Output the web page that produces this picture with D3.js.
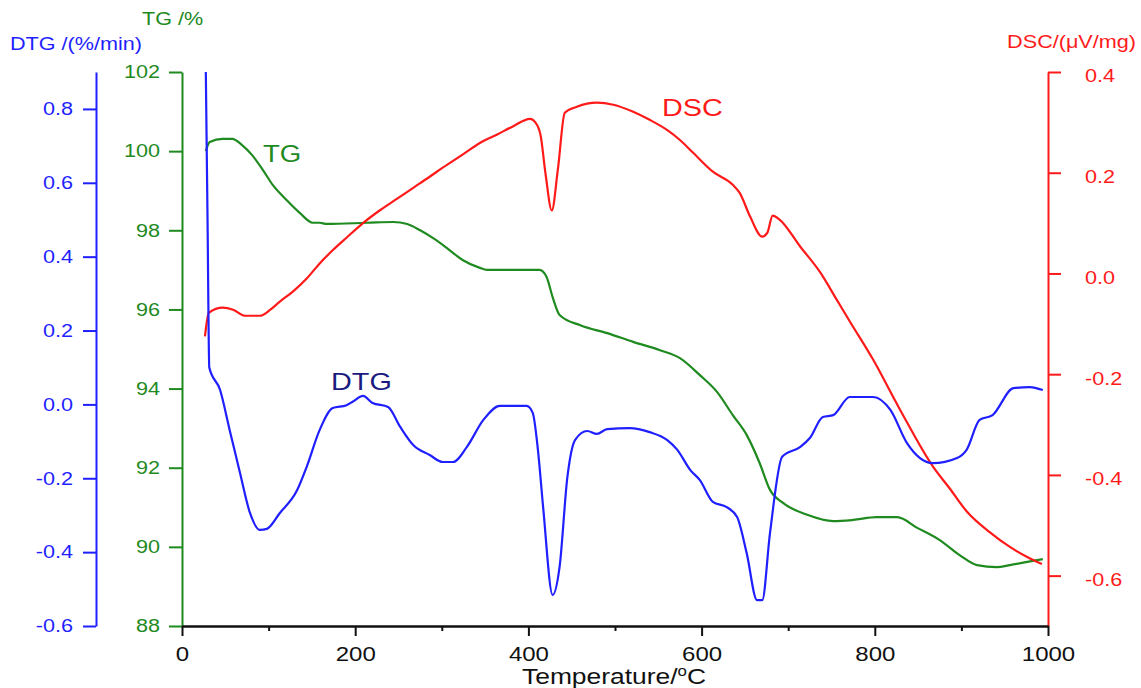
<!DOCTYPE html>
<html>
<head>
<meta charset="utf-8">
<script src="https://cdn.jsdelivr.net/npm/d3@7"></script>
<style>
    body { margin: 0; background: #fff; }
    svg { font-family: "Liberation Sans", Arial, sans-serif; }
</style>
</head>
<body>
<div id="chart"></div>
<script>
// data
const tgTemps = [27.5, 32, 47, 58, 69, 81, 93.5, 105, 121, 136, 151, 159, 167, 214, 244, 260, 275, 290, 306, 324, 344, 352, 413, 421, 428, 436, 460, 491, 521, 552, 575, 598, 618, 636, 652, 667, 679, 694, 722, 752, 775, 802, 826, 849, 875, 898, 918, 941, 956, 976, 994];
const tgValues = [100.0, 100.23, 100.31, 100.31, 100.16, 99.9, 99.52, 99.14, 98.76, 98.44, 98.19, 98.19, 98.16, 98.19, 98.21, 98.16, 98.0, 97.8, 97.55, 97.25, 97.05, 97.0, 97.0, 96.82, 96.31, 95.86, 95.6, 95.4, 95.18, 94.97, 94.77, 94.34, 93.91, 93.33, 92.83, 92.12, 91.44, 91.11, 90.81, 90.65, 90.68, 90.75, 90.75, 90.48, 90.17, 89.79, 89.54, 89.49, 89.54, 89.62, 89.69];

const dscTemps = [26.5, 31, 47, 59, 73, 90, 102, 113, 128, 144, 159, 174, 190, 209, 229, 248, 267, 286, 301, 324, 344, 364, 382, 402, 408, 414, 420, 427, 434, 442, 456, 479, 498, 521, 540, 560, 575, 590, 613, 636, 644, 656, 670, 676, 682, 690, 714, 737, 756, 771, 798, 829, 867, 887, 906, 933, 956, 976, 993];
const dscValues = [-0.125, -0.078, -0.068, -0.072, -0.084, -0.084, -0.072, -0.056, -0.036, -0.010, 0.020, 0.046, 0.071, 0.100, 0.126, 0.148, 0.170, 0.192, 0.210, 0.236, 0.259, 0.276, 0.292, 0.307, 0.300, 0.275, 0.195, 0.125, 0.206, 0.319, 0.331, 0.339, 0.335, 0.321, 0.305, 0.285, 0.265, 0.240, 0.202, 0.176, 0.160, 0.113, 0.073, 0.081, 0.115, 0.107, 0.053, 0.002, -0.052, -0.095, -0.171, -0.270, -0.383, -0.428, -0.472, -0.514, -0.543, -0.563, -0.577];

const dtgTemps = [27.5, 29.5, 31.5, 44, 55, 67, 78.5, 90, 98, 113, 133, 144, 159, 174, 190, 197, 209, 220, 238, 252, 267, 286, 301, 313, 329, 348, 367, 398, 405, 411, 417, 428, 436, 445, 454, 468, 479, 491, 517, 540, 560, 572, 587, 598, 613, 629, 641, 652, 664, 670, 679, 693, 714, 725, 740, 752, 771, 798, 818, 837, 867, 895, 906, 921, 936, 960, 979, 994];
const dtgValues = [0.9, 0.5, 0.1, 0.039, -0.069, -0.186, -0.294, -0.340, -0.337, -0.294, -0.232, -0.169, -0.069, -0.010, -0.002, 0.007, 0.023, 0.004, -0.007, -0.061, -0.110, -0.137, -0.156, -0.156, -0.115, -0.042, -0.004, -0.004, -0.023, -0.123, -0.278, -0.516, -0.440, -0.197, -0.096, -0.072, -0.080, -0.067, -0.064, -0.075, -0.096, -0.123, -0.178, -0.205, -0.264, -0.278, -0.305, -0.402, -0.530, -0.530, -0.348, -0.142, -0.115, -0.091, -0.034, -0.029, 0.020, 0.020, -0.015, -0.104, -0.159, -0.145, -0.123, -0.042, -0.029, 0.044, 0.047, 0.039];

// tick labels
const tempTicks = [0, 200, 400, 600, 800, 1000];
const tempMinorTicks = [100, 300, 500, 700, 900];
const tgTicks = [88, 90, 92, 94, 96, 98, 100, 102];
const dtgTicks = [-0.6, -0.4, -0.2, 0.0, 0.2, 0.4, 0.6, 0.8];
const dscTicks = [-0.6, -0.4, -0.2, 0.0, 0.2, 0.4];

const blue = '#1f1fff';
const green = '#1f8a1f';
const red = '#ff1a1a';

const width = 1141;
const height = 688;
const plot = {top: 72, bottom: 626, left: 182, right: 1048};

const svg = d3.select('#chart')
    .append('svg')
        .attr('width', width)
        .attr('height', height);

const xScale = d3.scaleLinear().domain([0, 1000]).range([plot.left, plot.right]);
const tgScale = d3.scaleLinear().domain([88, 102]).range([plot.bottom, plot.top]);
const dtgScale = d3.scaleLinear().domain([-0.6, 0.9]).range([plot.bottom, plot.top]);
const dscScale = d3.scaleLinear().domain([-0.7, 0.4]).range([plot.bottom, plot.top]);

const fmt1 = d => d.toFixed(1);

// style an axis group
const styleAxis = (g, color, size) => {
    g.select('.domain').attr('stroke', color).attr('stroke-width', 2);
    g.selectAll('.tick line').attr('stroke', color).attr('stroke-width', 2);
    g.selectAll('.tick text').attr('fill', color).style('font-size', size + 'px');
};

// DTG axis (far left, blue)
svg.append('g')
    .attr('transform', `translate(96, 0)`)
    .call(d3.axisLeft(dtgScale).tickValues(dtgTicks).tickFormat(fmt1)
        .tickSize(13).tickSizeOuter(0).tickPadding(10))
    .call(g => styleAxis(g, blue, 18));

// TG axis (green)
svg.append('g')
    .attr('transform', `translate(${plot.left}, 0)`)
    .call(d3.axisLeft(tgScale).tickValues(tgTicks)
        .tickSize(13).tickSizeOuter(0).tickPadding(9))
    .call(g => styleAxis(g, green, 18));

// DSC axis (right, red)
svg.append('g')
    .attr('transform', `translate(${plot.right}, 0)`)
    .call(d3.axisRight(dscScale).tickValues(dscTicks).tickFormat(fmt1)
        .tickSize(13).tickSizeOuter(0).tickPadding(24))
    .call(g => styleAxis(g, red, 18))
    .call(g => g.selectAll('.tick text').attr('dy', '0.55em'));

// temperature axis
svg.append('g')
    .attr('transform', `translate(0, ${plot.bottom})`)
    .call(d3.axisBottom(xScale).tickValues(tempMinorTicks).tickFormat('')
        .tickSize(5).tickSizeOuter(0))
    .call(g => styleAxis(g, '#111', 20));
svg.append('g')
    .attr('transform', `translate(0, ${plot.bottom})`)
    .call(d3.axisBottom(xScale).tickValues(tempTicks).tickFormat(d3.format('d'))
        .tickSize(10).tickSizeOuter(0).tickPadding(11))
    .call(g => styleAxis(g, '#111', 20));

// curves
const series = [
    {temps: tgTemps, values: tgValues, scale: tgScale, color: green},
    {temps: dscTemps, values: dscValues, scale: dscScale, color: red},
    {temps: dtgTemps, values: dtgValues, scale: dtgScale, color: blue}
];
series.forEach(s => {
    const line = d3.line()
        .x((d, i) => xScale(s.temps[i]))
        .y(d => s.scale(d))
        .curve(d3.curveMonotoneX);
    svg.append('path')
        .datum(s.values)
        .attr('d', line)
        .attr('fill', 'none')
        .attr('stroke', s.color)
        .attr('stroke-width', 2.2)
        .attr('stroke-linejoin', 'round');
});

// axis titles
svg.append('text')
    .attr('x', 10).attr('y', 50)
    .attr('fill', blue)
    .style('font-size', '18px')
    .text('DTG /(%/min)');
svg.append('text')
    .attr('x', 142).attr('y', 25)
    .attr('fill', green)
    .style('font-size', '18px')
    .text('TG /%');
svg.append('text')
    .attr('x', 1136).attr('y', 48)
    .attr('text-anchor', 'end')
    .attr('fill', red)
    .style('font-size', '18px')
    .text('DSC/(μV/mg)');
const xTitle = svg.append('text')
    .attr('x', 614).attr('y', 684)
    .attr('text-anchor', 'middle')
    .attr('fill', '#111')
    .style('font-size', '22px');
xTitle.append('tspan').text('Temperature/');
xTitle.append('tspan').attr('dy', -8).style('font-size', '14px').text('o');
xTitle.append('tspan').attr('dy', 8).text('C');

// curve labels
svg.append('text')
    .attr('x', 263).attr('y', 162)
    .attr('fill', green)
    .style('font-size', '23px')
    .text('TG');
svg.append('text')
    .attr('x', 662).attr('y', 116)
    .attr('fill', red)
    .style('font-size', '24px')
    .text('DSC');
svg.append('text')
    .attr('x', 331).attr('y', 390)
    .attr('fill', '#1a1a80')
    .style('font-size', '24px')
    .text('DTG');

// the original lettering is a bit wider than Arial, stretch it
svg.selectAll('text').each(function () {
    const el = d3.select(this);
    if (!el.text()) return;
    const w = this.getComputedTextLength();
    el.attr('textLength', w * 1.2).attr('lengthAdjust', 'spacingAndGlyphs');
});
</script>
</body>
</html>
